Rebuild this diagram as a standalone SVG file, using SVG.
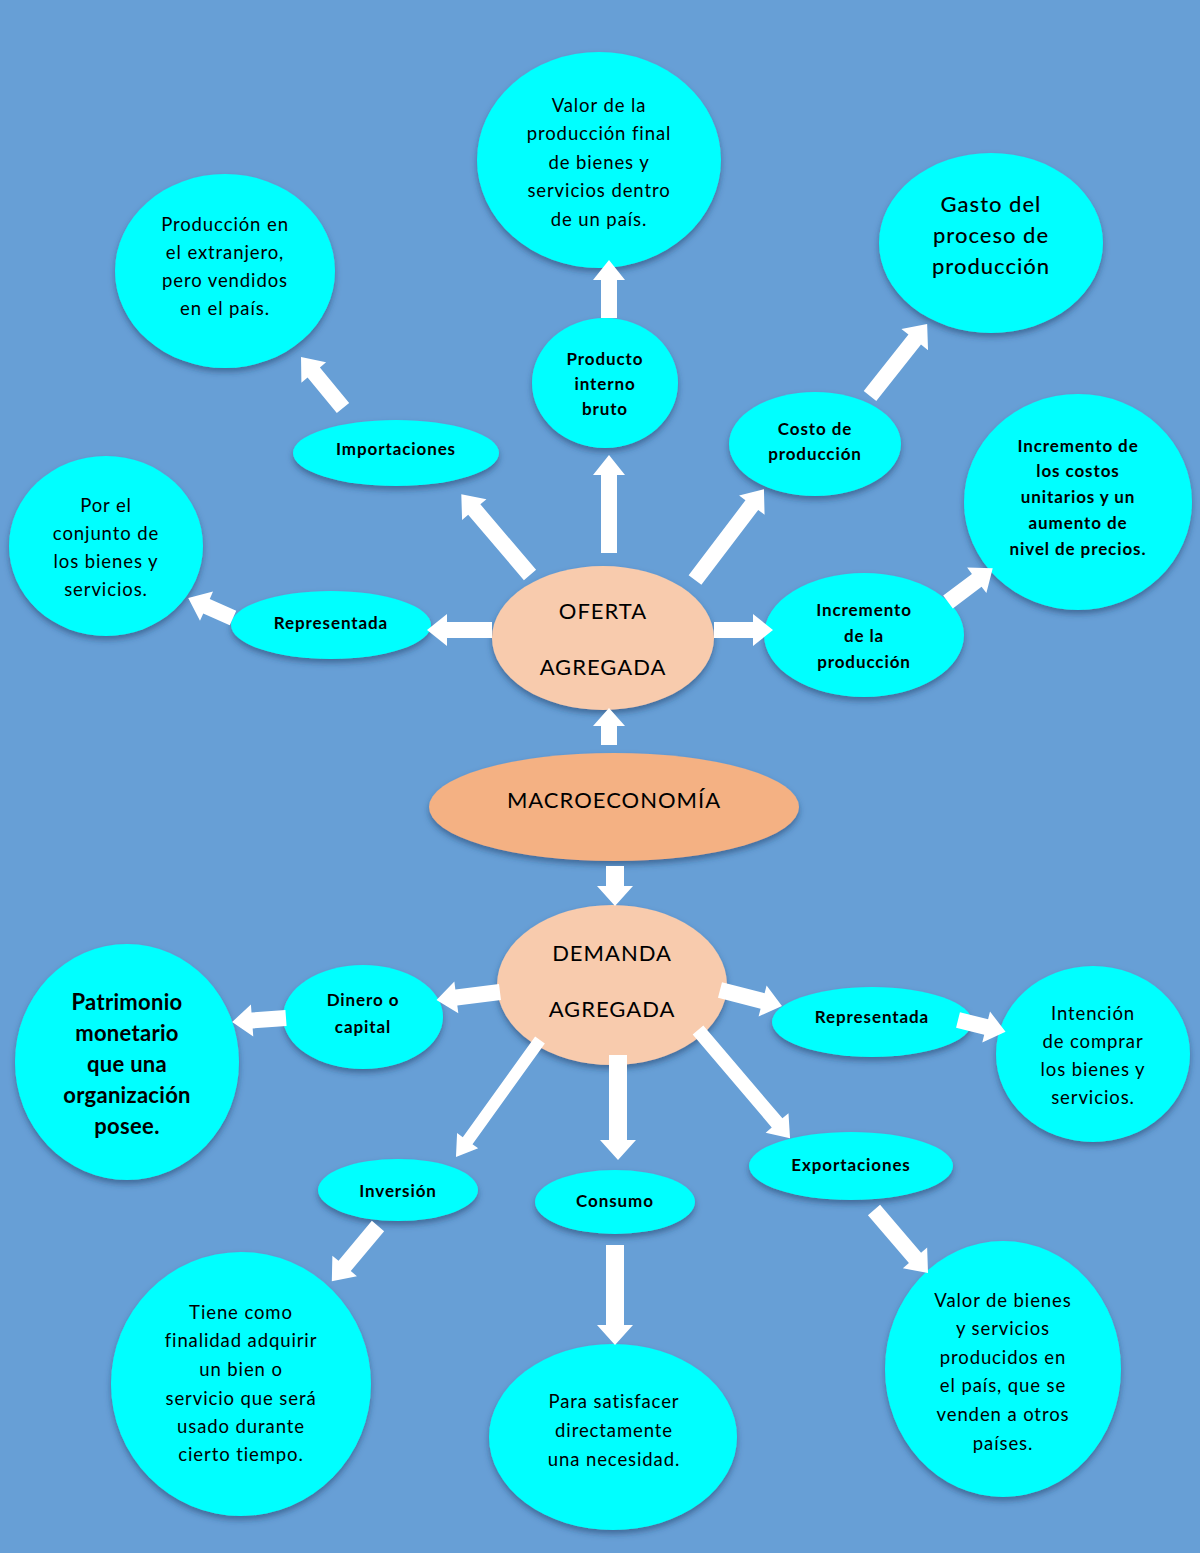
<svg xmlns="http://www.w3.org/2000/svg" width="1200" height="1553" viewBox="0 0 1200 1553">
<defs>
<filter id="sh" x="-20%" y="-20%" width="140%" height="150%">
<feDropShadow dx="0" dy="4" stdDeviation="3" flood-color="#1f3d66" flood-opacity="0.55"/>
</filter>
<style>
.c{fill:#00FFFF;filter:url(#sh)}
.p{fill:#F8CBAD;filter:url(#sh)}
.m{fill:#F4B183;filter:url(#sh)}
.a{fill:#FFFFFF}
text{font-family:Lato,"Open Sans","Liberation Sans",sans-serif;fill:#000;text-anchor:middle;dominant-baseline:central}
.t{font-size:18.5px;letter-spacing:0.9px}
.b{font-size:17px;font-weight:bold;letter-spacing:0.9px}
.l{font-size:22px;letter-spacing:1px}
.lb{font-size:22px;font-weight:bold;letter-spacing:0.3px}
</style>
</defs>
<rect width="1200" height="1553" fill="#679FD6"/>
<g id="n-valor-pib"><ellipse class="c" cx="599" cy="160" rx="122" ry="108"/>
<text class="t"><tspan x="599" y="105">Valor de la</tspan><tspan x="599" y="133">producción final</tspan><tspan x="599" y="162">de bienes y</tspan><tspan x="599" y="190">servicios dentro</tspan><tspan x="599" y="219">de un país.</tspan></text></g>
<g id="n-produccion-extranjero"><ellipse class="c" cx="225" cy="271" rx="110" ry="97"/>
<text class="t"><tspan x="225" y="224">Producción en</tspan><tspan x="225" y="252">el extranjero,</tspan><tspan x="225" y="280">pero vendidos</tspan><tspan x="225" y="308">en el país.</tspan></text></g>
<g id="n-gasto"><ellipse class="c" cx="991" cy="243" rx="112" ry="90"/>
<text class="l" style="font-weight:500"><tspan x="991" y="203">Gasto del</tspan><tspan x="991" y="234">proceso de</tspan><tspan x="991" y="265">producción</tspan></text></g>
<g id="n-pib"><ellipse class="c" cx="605" cy="383" rx="73" ry="65"/>
<text class="b"><tspan x="605" y="358">Producto</tspan><tspan x="605" y="383">interno</tspan><tspan x="605" y="408">bruto</tspan></text></g>
<g id="n-importaciones"><ellipse class="c" cx="396" cy="453" rx="103" ry="33"/>
<text class="b" x="396" y="448">Importaciones</text></g>
<g id="n-costo"><ellipse class="c" cx="815" cy="444" rx="86" ry="52"/>
<text class="b"><tspan x="815" y="428">Costo de</tspan><tspan x="815" y="453">producción</tspan></text></g>
<g id="n-incremento-costos"><ellipse class="c" cx="1078" cy="502" rx="114" ry="108"/>
<text class="b"><tspan x="1078" y="445">Incremento de</tspan><tspan x="1078" y="470">los costos</tspan><tspan x="1078" y="496">unitarios y un</tspan><tspan x="1078" y="522">aumento de</tspan><tspan x="1078" y="548">nivel de precios.</tspan></text></g>
<g id="n-por-el-conjunto"><ellipse class="c" cx="106" cy="546" rx="97" ry="90"/>
<text class="t"><tspan x="106" y="505">Por el</tspan><tspan x="106" y="533">conjunto de</tspan><tspan x="106" y="561">los bienes y</tspan><tspan x="106" y="589">servicios.</tspan></text></g>
<g id="n-representada-oferta"><ellipse class="c" cx="331" cy="625" rx="100" ry="34"/>
<text class="b" x="331" y="622">Representada</text></g>
<g id="n-oferta"><ellipse class="p" cx="603" cy="638" rx="111" ry="72"/>
<text class="l"><tspan x="603" y="610">OFERTA</tspan><tspan x="603" y="666">AGREGADA</tspan></text></g>
<g id="n-incremento-produccion"><ellipse class="c" cx="864" cy="635" rx="100" ry="62"/>
<text class="b"><tspan x="864" y="609">Incremento</tspan><tspan x="864" y="635">de la</tspan><tspan x="864" y="661">producción</tspan></text></g>
<g id="n-macro"><ellipse class="m" cx="614" cy="807" rx="185" ry="54"/>
<text class="l" x="614" y="799">MACROECONOMÍA</text></g>
<g id="n-demanda"><ellipse class="p" cx="612" cy="985" rx="115" ry="80"/>
<text class="l"><tspan x="612" y="952">DEMANDA</tspan><tspan x="612" y="1008">AGREGADA</tspan></text></g>
<g id="n-dinero"><ellipse class="c" cx="363" cy="1017" rx="80" ry="52"/>
<text class="b"><tspan x="363" y="999">Dinero o</tspan><tspan x="363" y="1026">capital</tspan></text></g>
<g id="n-patrimonio"><ellipse class="c" cx="127" cy="1062" rx="112" ry="118"/>
<text class="lb"><tspan x="127" y="1001">Patrimonio</tspan><tspan x="127" y="1032">monetario</tspan><tspan x="127" y="1063">que una</tspan><tspan x="127" y="1094">organización</tspan><tspan x="127" y="1125">posee.</tspan></text></g>
<g id="n-representada-demanda"><ellipse class="c" cx="872" cy="1022" rx="100" ry="35"/>
<text class="b" x="872" y="1016">Representada</text></g>
<g id="n-intencion"><ellipse class="c" cx="1093" cy="1054" rx="97" ry="88"/>
<text class="t"><tspan x="1093" y="1013">Intención</tspan><tspan x="1093" y="1041">de comprar</tspan><tspan x="1093" y="1069">los bienes y</tspan><tspan x="1093" y="1097">servicios.</tspan></text></g>
<g id="n-inversion"><ellipse class="c" cx="398" cy="1190" rx="80" ry="31"/>
<text class="b" x="398" y="1190">Inversión</text></g>
<g id="n-consumo"><ellipse class="c" cx="615" cy="1202" rx="80" ry="32"/>
<text class="b" x="615" y="1200">Consumo</text></g>
<g id="n-exportaciones"><ellipse class="c" cx="851" cy="1166" rx="102" ry="34"/>
<text class="b" x="851" y="1164">Exportaciones</text></g>
<g id="n-tiene"><ellipse class="c" cx="241" cy="1384" rx="130" ry="132"/>
<text class="t"><tspan x="241" y="1312">Tiene como</tspan><tspan x="241" y="1340">finalidad adquirir</tspan><tspan x="241" y="1369">un bien o</tspan><tspan x="241" y="1398">servicio que será</tspan><tspan x="241" y="1426">usado durante</tspan><tspan x="241" y="1454">cierto tiempo.</tspan></text></g>
<g id="n-para"><ellipse class="c" cx="613" cy="1437" rx="124" ry="93"/>
<text class="t"><tspan x="614" y="1401">Para satisfacer</tspan><tspan x="614" y="1430">directamente</tspan><tspan x="614" y="1459">una necesidad.</tspan></text></g>
<g id="n-valor-bienes"><ellipse class="c" cx="1003" cy="1369" rx="118" ry="128"/>
<text class="t"><tspan x="1003" y="1300">Valor de bienes</tspan><tspan x="1003" y="1328">y servicios</tspan><tspan x="1003" y="1357">producidos en</tspan><tspan x="1003" y="1385">el país, que se</tspan><tspan x="1003" y="1414">venden a otros</tspan><tspan x="1003" y="1443">países.</tspan></text></g>
<g id="connectors">
<path class="a" transform="translate(609,553) rotate(-90)" d="M0,-8H78V-16L98,0L78,16V8H0Z"/>
<path class="a" transform="translate(609,318) rotate(-90)" d="M0,-8H38V-16L58,0L38,16V8H0Z"/>
<path class="a" transform="translate(530,575) rotate(-130.4)" d="M0,-8H86V-16L106,0L86,16V8H0Z"/>
<path class="a" transform="translate(343,408) rotate(-129.5)" d="M0,-8H46V-16L66,0L46,16V8H0Z"/>
<path class="a" transform="translate(695,580) rotate(-52.8)" d="M0,-8H94V-16L114,0L94,16V8H0Z"/>
<path class="a" transform="translate(870,396) rotate(-51.6)" d="M0,-8H72V-17L92,0L72,17V8H0Z"/>
<path class="a" transform="translate(492,630) rotate(180)" d="M0,-8H45V-16L65,0L45,16V8H0Z"/>
<path class="a" transform="translate(233,618) rotate(-156)" d="M0,-8H29V-16L49,0L29,16V8H0Z"/>
<path class="a" transform="translate(714,630)" d="M0,-8H39V-16L59,0L39,16V8H0Z"/>
<path class="a" transform="translate(948,602) rotate(-37)" d="M0,-8H36V-16L56,0L36,16V8H0Z"/>
<path class="a" transform="translate(609,745) rotate(-90)" d="M0,-8H19V-16L37,0L19,16V8H0Z"/>
<path class="a" transform="translate(615,866) rotate(90)" d="M0,-9H20V-18L40,0L20,18V9H0Z"/>
<path class="a" transform="translate(500,992) rotate(172.9)" d="M0,-8H44V-16L64,0L44,16V8H0Z"/>
<path class="a" transform="translate(286,1018) rotate(175.8)" d="M0,-8H34V-16L54,0L34,16V8H0Z"/>
<path class="a" transform="translate(720,990) rotate(14.5)" d="M0,-8H44V-16L64,0L44,16V8H0Z"/>
<path class="a" transform="translate(958,1020) rotate(14)" d="M0,-8H29V-16L49,0L29,16V8H0Z"/>
<path class="a" transform="translate(540,1040) rotate(125.7)" d="M0,-6H124V-13L144,0L124,13V6H0Z"/>
<path class="a" transform="translate(378,1226) rotate(129.9)" d="M0,-8H52V-16L72,0L52,16V8H0Z"/>
<path class="a" transform="translate(618,1055) rotate(90)" d="M0,-9H85V-18L105,0L85,18V9H0Z"/>
<path class="a" transform="translate(615,1245) rotate(90)" d="M0,-9H80V-18L100,0L80,18V9H0Z"/>
<path class="a" transform="translate(698,1030) rotate(49.6)" d="M0,-7H122V-15L142,0L122,15V7H0Z"/>
<path class="a" transform="translate(874,1210) rotate(49.4)" d="M0,-8H63V-16L83,0L63,16V8H0Z"/>
</g>
</svg>
